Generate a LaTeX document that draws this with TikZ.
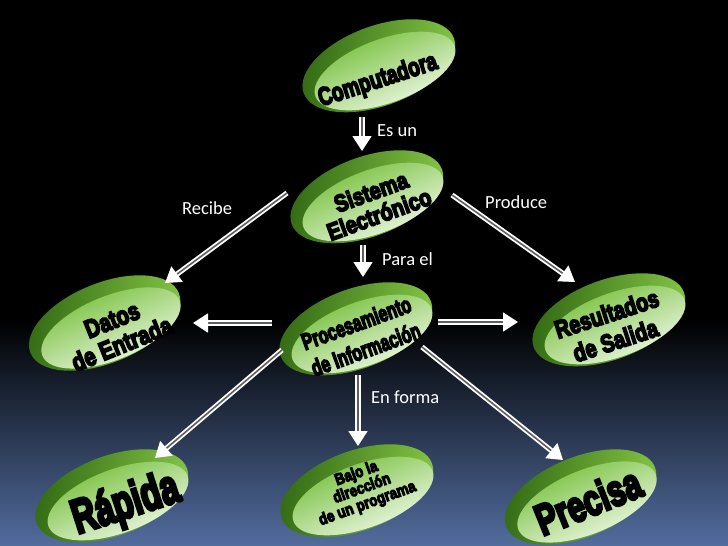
\documentclass[tikz,border=0pt]{standalone}
\usepackage{fontspec}
\usepackage{graphicx}
\usetikzlibrary{arrows.meta,calc}
\setmainfont{Carlito}
\newfontfamily\inkfont{Liberation Sans Bold}[FakeBold=7]
\newcommand\ptx[2][1.25]{\scalebox{1}[#1]{\inkfont #2}}
\definecolor{rimdark}{RGB}{50,105,20}
\definecolor{rimlight}{RGB}{135,200,70}
\definecolor{facegreen}{RGB}{110,188,48}
\definecolor{facemid}{RGB}{200,236,175}
\definecolor{facewhite}{RGB}{250,254,248}
\definecolor{bgbot}{RGB}{82,108,158}
\definecolor{gapcol}{RGB}{95,95,95}
\tikzset{
  rimshade/.style={left color=rimdark, right color=rimlight, shading angle=80},
  faceshade/.style={top color=facegreen, middle color=facemid, bottom color=facewhite, shading angle=25},
  pilltext/.style={inner sep=0pt, align=center, text=black},
  conn/.style={draw=white, double=gapcol, double distance=1.6pt, line width=1.8pt,
    -{Triangle[length=15pt,width=19pt]}},
  lbl/.style={text=white, font=\fontsize{18.5}{20}\selectfont, anchor=west, inner sep=0pt}
}
\newcommand\pill[3]{%
  \begin{scope}[rotate around={#3:(#1,#2)}]
    \shade[rimshade] (#1-4,#2-7) ellipse [x radius=80, y radius=40];
    \shade[faceshade] (#1,#2) ellipse [x radius=74, y radius=32];
  \end{scope}}
\begin{document}
\begin{tikzpicture}[x=1pt,y=-1pt]
\useasboundingbox (0,0) rectangle (728,546);
\fill[black] (0,0) rectangle (728,546);
\shade[top color=black, bottom color=bgbot] (0,320) rectangle (728,546);

% pills
\pill{385}{71}{20}
\pill{373}{202}{20}
\pill{362}{334}{20}
\pill{111}{328}{22}
\pill{615}{325}{20}
\pill{118}{501}{20}
\pill{363}{496}{20}
\pill{587}{502}{22}

% texts
\node[pilltext, rotate=18, font=\fontsize{19}{22}\selectfont] (comp) at (378,81) {\ptx[1.35]{Computadora}};
\node[pilltext, rotate=20, font=\fontsize{20}{24}\selectfont] (sis) at (375,203) {\ptx[1.2]{Sistema}\\\ptx[1.2]{Electrónico}};
\node[pilltext, rotate=20, font=\fontsize{16}{28}\selectfont] (proc) at (361,336) {\ptx[1.45]{Procesamiento}\\\ptx[1.45]{de Información}};
\node[pilltext, rotate=22, font=\fontsize{20.5}{26}\selectfont] (dat) at (117,332) {\ptx[1.25]{Datos}\\\ptx[1.25]{de Entrada}};
\node[pilltext, rotate=18, font=\fontsize{20}{28}\selectfont] (res) at (611,327) {\ptx[1.25]{Resultados}\\\ptx[1.25]{de Salida}};
\node[pilltext, rotate=18, font=\fontsize{33}{40}\selectfont] (rap) at (126,505) {\ptx[1.45]{Rápida}};
\node[pilltext, rotate=20, font=\fontsize{13.5}{16}\selectfont] (baj) at (362,489) {\ptx[1.2]{Bajo la}\\\ptx[1.2]{dirección}\\\ptx[1.2]{de un programa}};
\node[pilltext, rotate=22, font=\fontsize{31}{38}\selectfont] (pre) at (588,501) {\ptx[1.4]{Precisa}};

% connectors
\draw[conn] ($(comp)+(-16,36)$) -- ($(sis)+(-13,-52)$);
\draw[conn] ($(sis)+(-88,-10)$) -- ($(dat)+(48,-49)$);
\draw[conn] ($(sis)+(77,-8)$) -- ($(res)+(-36,-45)$);
\draw[conn] ($(sis)+(-12,42)$) -- ($(proc)+(2,-59)$);
\draw[conn] ($(proc)+(-89,-13)$) -- ($(dat)+(76,-9)$);
\draw[conn] ($(proc)+(77,-14)$) -- ($(res)+(-93,-5)$);
\draw[conn] ($(proc)+(-79,14)$) -- ($(rap)+(29,-47)$);
\draw[conn] ($(proc)+(-3,39)$) -- ($(baj)+(-4,-43)$);
\draw[conn] ($(proc)+(61,11)$) -- ($(pre)+(-25,-41)$);

% labels
\node[lbl] (l1) at (377,131) {Es un};
\node[lbl] (l2) at (182,208) {Recibe};
\node[lbl] (l3) at (485,202) {Produce};
\node[lbl] (l4) at (382,259) {Para el};
\node[lbl] (l5) at (371,397) {En forma};
\end{tikzpicture}
\end{document}
